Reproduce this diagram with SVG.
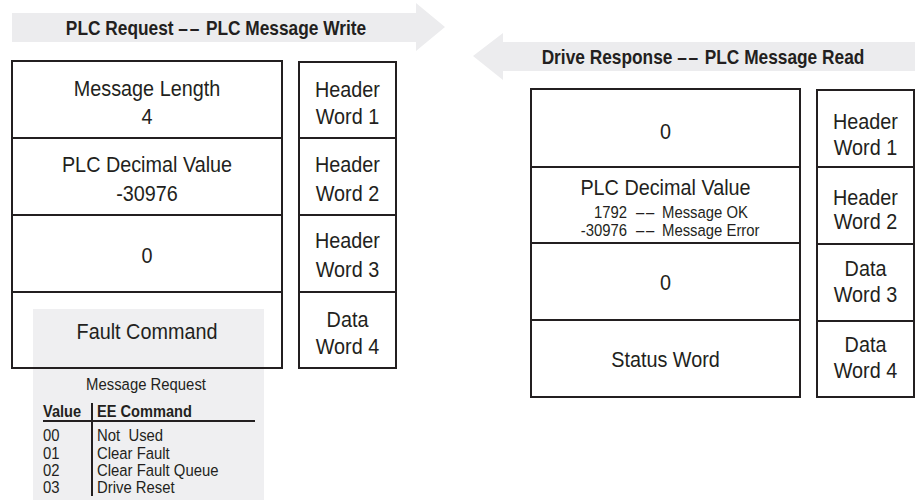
<svg xmlns="http://www.w3.org/2000/svg" width="917" height="503" viewBox="0 0 917 503">
<style>
.bg{fill:#ffffff}
.arrow{fill:#ececee;stroke:none}
.panel{fill:#efeff1;stroke:none}
.cell{fill:none;stroke:#231f20;stroke-width:2}
.rule{stroke:#231f20;fill:none}
text{font-family:"Liberation Sans",Arial,Helvetica,sans-serif;fill:#231f20;transform-box:fill-box}
.m{font-size:22.5px;text-anchor:middle;transform-origin:center;transform:scaleX(0.88)}
.b{font-size:20px;font-weight:bold;text-anchor:middle;transform-origin:center;transform:scaleX(0.866)}
.s{font-size:17px;transform-origin:left;transform:scaleX(0.875)}
.se{font-size:17px;text-anchor:end;transform-origin:right;transform:scaleX(0.875)}
.sc{font-size:17px;text-anchor:middle;transform-origin:center;transform:scaleX(0.875)}
.sb{font-size:17px;font-weight:bold;transform-origin:left;transform:scaleX(0.86)}
.dash{letter-spacing:2px}
</style>
<rect class="bg" x="0" y="0" width="917" height="503"/>

<g id="connectors">
  <g id="arrow-request">
    <polygon class="arrow" points="12,13 416,13 416,3 445,27 416,51 416,42 12,42"/>
    <text class="b" x="216" y="35">PLC Request <tspan class="dash">––</tspan> PLC Message Write</text>
  </g>
  <g id="arrow-response">
    <polygon class="arrow" points="915,42 503,42 503,33 473,56 503,80 503,71 915,71"/>
    <text class="b" x="703" y="64">Drive Response <tspan class="dash">––</tspan> PLC Message Read</text>
  </g>
</g>

<g id="message-request-table">
  <rect class="panel" x="33" y="309" width="231" height="191"/>
  <text class="sc" x="146" y="390">Message Request</text>
  <text class="sb" x="43" y="417">Value</text>
  <text class="sb" x="97" y="417">EE Command</text>
  <line class="rule" x1="43" y1="421" x2="255" y2="421" stroke-width="2"/>
  <line class="rule" x1="92" y1="403" x2="92" y2="496" stroke-width="2"/>
  <text class="s" x="43" y="441">00</text>
  <text class="s" x="97" y="441" xml:space="preserve">Not  Used</text>
  <text class="s" x="43" y="459">01</text>
  <text class="s" x="97" y="459">Clear Fault</text>
  <text class="s" x="43" y="476">02</text>
  <text class="s" x="97" y="476">Clear Fault Queue</text>
  <text class="s" x="43" y="493">03</text>
  <text class="s" x="97" y="493">Drive Reset</text>
</g>

<g id="req-row1">
  <rect class="cell" x="12" y="61" width="270" height="77"/>
  <text class="m" x="147" y="96">Message Length</text>
  <text class="m" x="147" y="124">4</text>
</g>
<g id="req-row2">
  <rect class="cell" x="12" y="138" width="270" height="77"/>
  <text class="m" x="147" y="172">PLC Decimal Value</text>
  <text class="m" x="147" y="201">-30976</text>
</g>
<g id="req-row3">
  <rect class="cell" x="12" y="215" width="270" height="77"/>
  <text class="m" x="147" y="263">0</text>
</g>
<g id="req-row4">
  <rect class="cell" x="12" y="292" width="270" height="76"/>
  <text class="m" x="147" y="339">Fault Command</text>
</g>

<g id="req-word1">
  <rect class="cell" x="299" y="62" width="97" height="76"/>
  <text class="m" x="347.5" y="97">Header</text>
  <text class="m" x="347.5" y="124">Word 1</text>
</g>
<g id="req-word2">
  <rect class="cell" x="299" y="138" width="97" height="77"/>
  <text class="m" x="347.5" y="172">Header</text>
  <text class="m" x="347.5" y="201">Word 2</text>
</g>
<g id="req-word3">
  <rect class="cell" x="299" y="215" width="97" height="77"/>
  <text class="m" x="347.5" y="248">Header</text>
  <text class="m" x="347.5" y="277">Word 3</text>
</g>
<g id="req-word4">
  <rect class="cell" x="299" y="292" width="97" height="76"/>
  <text class="m" x="347.5" y="327">Data</text>
  <text class="m" x="347.5" y="354">Word 4</text>
</g>

<g id="resp-row1">
  <rect class="cell" x="531" y="89" width="269" height="78"/>
  <text class="m" x="665.5" y="139">0</text>
</g>
<g id="resp-row2">
  <rect class="cell" x="531" y="167" width="269" height="76"/>
  <text class="m" x="665.5" y="195">PLC Decimal Value</text>
  <text class="se" x="627" y="218">1792</text>
  <text class="s dash" x="636" y="218">––</text>
  <text class="s" x="662" y="218">Message OK</text>
  <text class="se" x="627" y="236">-30976</text>
  <text class="s dash" x="636" y="236">––</text>
  <text class="s" x="662" y="236">Message Error</text>
</g>
<g id="resp-row3">
  <rect class="cell" x="531" y="243" width="269" height="77"/>
  <text class="m" x="665.5" y="290">0</text>
</g>
<g id="resp-row4">
  <rect class="cell" x="531" y="320" width="269" height="77"/>
  <text class="m" x="665.5" y="367">Status Word</text>
</g>

<g id="resp-word1">
  <rect class="cell" x="817" y="90" width="97" height="77"/>
  <text class="m" x="865.5" y="129">Header</text>
  <text class="m" x="865.5" y="155">Word 1</text>
</g>
<g id="resp-word2">
  <rect class="cell" x="817" y="167" width="97" height="77"/>
  <text class="m" x="865.5" y="205">Header</text>
  <text class="m" x="865.5" y="229">Word 2</text>
</g>
<g id="resp-word3">
  <rect class="cell" x="817" y="244" width="97" height="77"/>
  <text class="m" x="865.5" y="276">Data</text>
  <text class="m" x="865.5" y="302">Word 3</text>
</g>
<g id="resp-word4">
  <rect class="cell" x="817" y="321" width="97" height="76"/>
  <text class="m" x="865.5" y="352">Data</text>
  <text class="m" x="865.5" y="378">Word 4</text>
</g>
</svg>
